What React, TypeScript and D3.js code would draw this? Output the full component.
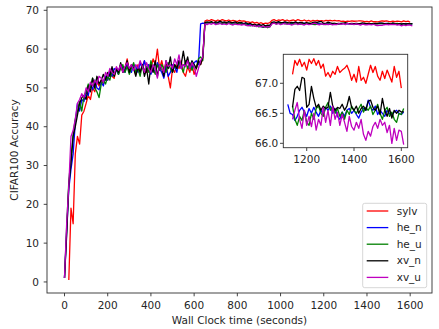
import * as d3 from 'd3'

const W = 439
const H = 329
const STEP = 10 // seconds between logged points

// accuracy per logged point
const sylv = [
  0.5, 19.0, 15.0, 33.0, 37.5, 35.5, 43.0, 44.0, 46.0, 48.0,
  47.0, 50.0, 49.0, 51.5, 50.5, 52.0, 51.0, 53.0, 52.0, 54.5,
  53.0, 52.5, 55.0, 53.5, 56.0, 54.0, 55.0, 57.5, 54.5, 56.0,
  55.0, 53.5, 56.0, 54.0, 55.5, 57.0, 54.0, 56.0, 55.0, 57.5,
  56.0, 60.0, 55.0, 57.0, 54.5, 56.0, 53.0, 50.0, 55.0, 54.0,
  56.0, 55.0, 57.0, 54.0, 53.0, 55.5, 54.0, 56.0, 53.5, 55.0,
  57.0, 56.0, 57.5,
  67.2, 67.5, 67.3, 67.6, 67.4, 67.2, 67.5, 67.3, 67.6, 67.4,
  67.3, 67.5, 67.2, 67.4, 67.3, 67.1, 67.4, 67.2, 67.3, 67.1,
  67.0, 66.8, 67.0, 66.7, 66.9, 66.6, 66.8, 66.5, 66.7, 66.6, 66.8,
  67.4, 67.6, 67.3, 67.5, 67.4, 67.6, 67.3, 67.5, 67.2, 67.4,
  67.5, 67.3, 67.6, 67.4, 67.3, 67.5, 67.2, 67.4,
  67.15, 67.38, 67.30, 67.40, 67.28, 67.35, 67.22, 67.40, 67.33, 67.41,
  67.30, 67.38, 67.25, 67.32, 67.12, 67.18, 67.10, 67.20, 67.15, 67.28,
  67.18, 67.22, 67.25, 67.30, 67.20, 67.05, 67.15, 67.02, 67.28, 67.05,
  67.10, 67.00, 67.15, 67.30, 67.18, 67.28, 67.12, 67.05, 67.20, 67.08,
  67.22, 67.12, 67.02, 67.28, 67.10, 67.20, 66.92,
]

const he_n = [
  1.0, 13.0, 24.0, 29.0, 33.0, 41.0, 46.0, 44.0, 47.0, 46.5,
  49.0, 48.0, 51.0, 49.5, 52.0, 50.0, 49.5, 51.5, 50.5, 53.0,
  52.0, 54.0, 53.0, 55.0, 54.5, 53.5, 56.0, 55.0, 54.0, 56.5,
  55.0, 54.0, 56.0, 55.5, 54.0, 56.5, 55.0, 57.0, 54.5, 56.0,
  53.5, 55.0, 54.0, 56.5, 55.0, 54.0, 52.5, 55.5, 53.0, 54.0,
  56.0, 55.5, 54.0, 57.0, 55.0, 56.0, 55.5, 57.0, 56.0, 55.0,
  56.5, 57.0, 56.0,
  66.5, 66.7, 66.6, 66.8, 66.6, 66.9, 66.7, 66.6, 66.8, 66.7,
  66.5, 66.8, 66.6, 66.7, 66.5, 66.8, 66.6, 66.5, 66.7, 66.6, 66.4, 66.6,
  66.3, 66.4, 66.1, 66.2, 65.9, 66.1, 65.8, 65.6, 65.9, 65.7, 65.8,
  66.7, 66.8, 66.6, 66.9, 66.7, 66.6, 66.8, 66.7, 66.5, 66.7,
  66.6, 66.8, 66.5, 66.7, 66.6, 66.7,
  66.65, 66.50, 66.48, 66.38, 66.45, 66.55, 66.60, 66.52, 66.45, 66.58,
  66.50, 66.60, 66.52, 66.45, 66.55, 66.48, 66.60, 66.55, 66.62, 66.50,
  66.58, 66.45, 66.40, 66.52, 66.45, 66.55, 66.58, 66.50, 66.55, 66.48,
  66.42, 66.52, 66.58, 66.55, 66.72, 66.60, 66.55, 66.62, 66.48, 66.55,
  66.50, 66.45, 66.55, 66.50, 66.48, 66.52, 66.55, 66.50, 66.48, 66.52,
]

const he_u = [
  1.0, 14.0, 26.0, 32.0, 38.0, 42.0, 44.0, 46.5, 44.0, 48.0,
  49.0, 51.0, 50.0, 52.5, 50.0, 49.0, 47.5, 51.0, 52.0, 51.0,
  53.0, 52.0, 54.5, 53.0, 55.0, 53.5, 55.0, 56.0, 54.0, 55.5,
  53.5, 55.0, 56.5, 54.0, 55.0, 53.0, 56.0, 54.5, 55.5, 54.0,
  57.0, 55.0, 53.5, 56.0, 54.5, 56.0, 55.0, 54.0, 56.5, 55.0,
  54.0, 56.0, 55.0, 57.0, 55.5, 54.0, 57.0, 55.0, 56.5, 54.5,
  56.0, 55.0, 57.5, 58.0, 57.0,
  66.6, 66.8, 66.7, 66.9, 66.6, 66.8, 66.5, 66.7, 66.6, 66.8,
  66.5, 66.7, 66.6, 66.4, 66.6, 66.5, 66.7, 66.4, 66.5, 66.3,
  66.2, 66.0, 66.3, 65.9, 66.1, 65.7, 65.9, 65.6, 65.8, 65.5, 65.7,
  66.6, 66.8, 66.5, 66.7, 66.6, 66.8, 66.5, 66.6, 66.7, 66.4,
  66.6, 66.5, 66.7, 66.4, 66.6, 66.5, 66.7, 66.6,
  66.62, 66.40, 66.30, 66.45, 66.38, 66.55, 66.35, 66.30, 66.50, 66.40,
  66.58, 66.62, 66.50, 66.45, 66.60, 66.68, 66.55, 66.62, 66.50, 66.58,
  66.45, 66.52, 66.40, 66.55, 66.48, 66.62, 66.55, 66.50, 66.58, 66.65,
  66.52, 66.60, 66.55, 66.62, 66.48, 66.55, 66.65, 66.50, 66.40, 66.55,
  66.60, 66.45, 66.52, 66.40, 66.35, 66.50, 66.48, 66.58,
]

const xv_n = [
  1.0, 12.0, 25.0, 30.5, 37.5, 40.0, 43.0, 46.0, 47.5, 48.0,
  47.0, 50.5, 49.0, 52.5, 50.0, 53.0, 51.0, 52.0, 53.5, 52.0,
  54.0, 53.0, 55.5, 53.0, 55.0, 54.0, 56.5, 54.0, 55.0, 57.0,
  54.0, 56.0, 55.0, 53.0, 55.5, 54.0, 56.0, 53.0, 55.0, 51.0,
  56.0, 54.0, 57.0, 53.0, 56.0, 55.0, 53.0, 57.0, 55.0, 58.0,
  54.0, 56.0, 55.0, 57.0, 56.0, 59.5, 56.0, 58.0, 55.0, 57.0,
  56.0, 55.0, 57.0, 56.0, 58.0,
  66.8, 67.0, 66.9, 67.1, 66.8, 67.0, 66.9, 67.2, 66.9, 67.0,
  66.8, 67.1, 66.9, 66.8, 67.0, 66.7, 66.9, 66.8, 66.6, 66.8,
  66.5, 66.6, 66.3, 66.4, 66.2, 66.4, 66.1, 66.3, 66.0, 66.2, 66.1,
  66.9, 67.0, 66.8, 67.1, 66.9, 66.8, 67.0, 66.9, 66.7, 66.9,
  66.8, 67.0, 66.7, 66.9, 66.8, 66.6, 66.8, 66.7,
  66.60, 66.90, 66.95, 66.88, 67.10, 67.08, 66.60, 66.65, 66.95, 66.75,
  66.60, 66.65, 66.55, 66.62, 66.58, 66.60, 66.85, 66.62, 66.55, 66.60,
  66.58, 66.65, 66.55, 66.62, 66.78, 66.60, 66.55, 66.62, 66.50, 66.58,
  66.62, 66.55, 66.70, 66.72, 66.60, 66.55, 66.62, 66.48, 66.75, 66.55,
  66.45, 66.58, 66.42, 66.55, 66.50, 66.55, 66.52, 66.53,
]

const xv_u = [
  1.0, 15.0, 25.0, 37.5, 39.0, 42.0, 46.0, 47.0, 48.5, 47.5,
  50.0, 49.0, 51.5, 50.5, 52.0, 51.0, 53.0, 52.5, 51.5, 54.0,
  53.0, 55.0, 54.0, 53.5, 55.5, 54.5, 56.0, 54.0, 55.5, 56.5,
  55.0, 56.0, 54.5, 56.0, 55.0, 57.0, 55.5, 54.0, 56.5, 55.0,
  54.0, 56.0, 55.0, 52.5, 56.0, 55.0, 54.0, 57.0, 55.5, 56.0,
  55.0, 57.5, 56.0, 58.5, 55.0, 56.0, 55.5, 57.0, 55.0, 56.5,
  55.5, 53.0, 55.0, 57.0, 58.0,
  66.5, 66.3, 66.6, 66.4, 66.7, 66.3, 66.5, 66.6, 66.4, 66.5,
  66.3, 66.6, 66.4, 66.2, 66.5, 66.3, 66.4, 66.2, 66.4, 66.1,
  66.0, 66.2, 65.9, 66.1, 65.8, 66.0, 65.7, 65.9, 65.6, 65.8, 65.7,
  66.5, 66.7, 66.4, 66.6, 66.3, 66.5, 66.6, 66.4, 66.5, 66.2,
  66.4, 66.6, 66.3, 66.5, 66.4, 66.2, 66.5, 66.3,
  66.40, 66.55, 66.68, 66.40, 66.25, 66.55, 66.30, 66.45, 66.28, 66.50,
  66.22, 66.40, 66.30, 66.60, 66.35, 66.55, 66.30, 66.62, 66.40, 66.52,
  66.30, 66.48, 66.35, 66.20, 66.45, 66.28, 66.22, 66.35, 66.25, 66.40,
  66.15, 66.05, 66.20, 66.12, 66.28, 66.35, 66.25, 66.40, 66.30, 66.35,
  66.18, 66.30, 66.00, 66.25, 66.05, 66.22, 66.20, 65.98,
]

const names = ['sylv', 'he_n', 'he_u', 'xv_n', 'xv_u']
const colors = ['#ff0000', '#0000ff', '#008000', '#000000', '#bf00bf']
const startTimes = [20, 0, 0, 0, 0]
const insetFrom = [1140, 1120, 1140, 1140, 1140]
const allValues = [sylv, he_n, he_u, xv_n, xv_u]

const xTicks = [0, 200, 400, 600, 800, 1000, 1200, 1400, 1600]
const yTicks = [0, 10, 20, 30, 40, 50, 60, 70]
const insetXTicks = [1200, 1400, 1600]
const insetYTicks = [66.0, 66.5, 67.0]

type Pt = { t: number; v: number }

const series = names.map((name, k) => ({
  name,
  color: colors[k],
  points: allValues[k].map((v, i) => ({ t: startTimes[k] + i * STEP, v })) as Pt[],
  from: insetFrom[k],
}))

const FONT = 'DejaVu Sans, sans-serif'
const FS = 10.5
const TXT = '#262626'
const SPINE = '#303030'

export default function App() {
  // main axes
  const x = d3.scaleLinear().domain([-81, 1701]).range([47, 432])
  const y = d3.scaleLinear().domain([-2.85, 70.85]).range([293, 7])
  // inset axes
  const ix = d3.scaleLinear().domain([1101, 1627]).range([283.3, 407.7])
  const iy = d3.scaleLinear().domain([65.927, 67.483]).range([147.7, 54.3])

  const line = d3.line<Pt>().x((d) => x(d.t)).y((d) => y(d.v))
  const iline = d3.line<Pt>().x((d) => ix(d.t)).y((d) => iy(d.v))

  const [x0, x1] = x.range()
  const [y0, y1] = y.range()
  const [ix0, ix1] = ix.range()
  const [iy0, iy1] = iy.range()

  return (
    <svg width={W} height={H} style={{ position: 'absolute', left: 0, top: 0, background: '#fff' }} fontFamily={FONT}>
      <rect x={0} y={0} width={W} height={H} fill="#fff" />
      {/* lines */}
      {series.map((s) => (
        <path key={s.name} d={line(s.points) || ''} fill="none" stroke={s.color} strokeWidth={1.3} strokeLinejoin="round" />
      ))}
      {/* frame */}
      <rect x={x0} y={y1} width={x1 - x0} height={y0 - y1} fill="none" stroke={SPINE} strokeWidth={0.9} />
      {/* x ticks */}
      {xTicks.map((t) => (
        <g key={'x' + t}>
          <line x1={x(t)} x2={x(t)} y1={y0} y2={y0 + 3.3} stroke={SPINE} strokeWidth={0.9} />
          <text x={x(t)} y={y0 + 16} textAnchor="middle" fontSize={FS} fill={TXT}>{t}</text>
        </g>
      ))}
      {yTicks.map((t) => (
        <g key={'y' + t}>
          <line x1={x0} x2={x0 - 3.3} y1={y(t)} y2={y(t)} stroke={SPINE} strokeWidth={0.9} />
          <text x={x0 - 8} y={y(t)} dy="0.35em" textAnchor="end" fontSize={FS} fill={TXT}>{t}</text>
        </g>
      ))}
      <text x={(x0 + x1) / 2} y={324} textAnchor="middle" fontSize={FS} fill={TXT}>Wall Clock time (seconds)</text>
      <text transform={`translate(17.5,${(y0 + y1) / 2}) rotate(-90)`} textAnchor="middle" fontSize={FS} fill={TXT}>CIFAR100 Accuracy</text>

      {/* inset */}
      <rect x={ix0} y={iy1} width={ix1 - ix0} height={iy0 - iy1} fill="#fff" />
      {series.map((s) => (
        <path key={'i' + s.name} d={iline(s.points.filter((p) => p.t >= s.from)) || ''} fill="none" stroke={s.color} strokeWidth={1.3} strokeLinejoin="round" />
      ))}
      <rect x={ix0} y={iy1} width={ix1 - ix0} height={iy0 - iy1} fill="none" stroke={SPINE} strokeWidth={0.9} />
      {insetXTicks.map((t) => (
        <g key={'ix' + t}>
          <line x1={ix(t)} x2={ix(t)} y1={iy0} y2={iy0 + 3.3} stroke={SPINE} strokeWidth={0.9} />
          <text x={ix(t)} y={iy0 + 15.5} textAnchor="middle" fontSize={FS} fill={TXT}>{t}</text>
        </g>
      ))}
      {insetYTicks.map((t) => (
        <g key={'iy' + t}>
          <line x1={ix0} x2={ix0 - 3.3} y1={iy(t)} y2={iy(t)} stroke={SPINE} strokeWidth={0.9} />
          <text x={ix0 - 5} y={iy(t)} dy="0.35em" textAnchor="end" fontSize={FS} fill={TXT}>{t.toFixed(1)}</text>
        </g>
      ))}

      {/* legend */}
      <rect x={362.7} y={203.3} width={64} height={84.4} rx={2} fill="#fff" fillOpacity={0.8} stroke="#cccccc" strokeWidth={0.8} />
      {series.map((s, k) => (
        <g key={'l' + s.name} transform={`translate(0,${211 + k * 16.6})`}>
          <line x1={366.7} x2={388.3} y1={0} y2={0} stroke={s.color} strokeWidth={1.3} />
          <text x={396.7} y={0} dy="0.35em" fontSize={FS} fill={TXT}>{s.name}</text>
        </g>
      ))}
    </svg>
  )
}
